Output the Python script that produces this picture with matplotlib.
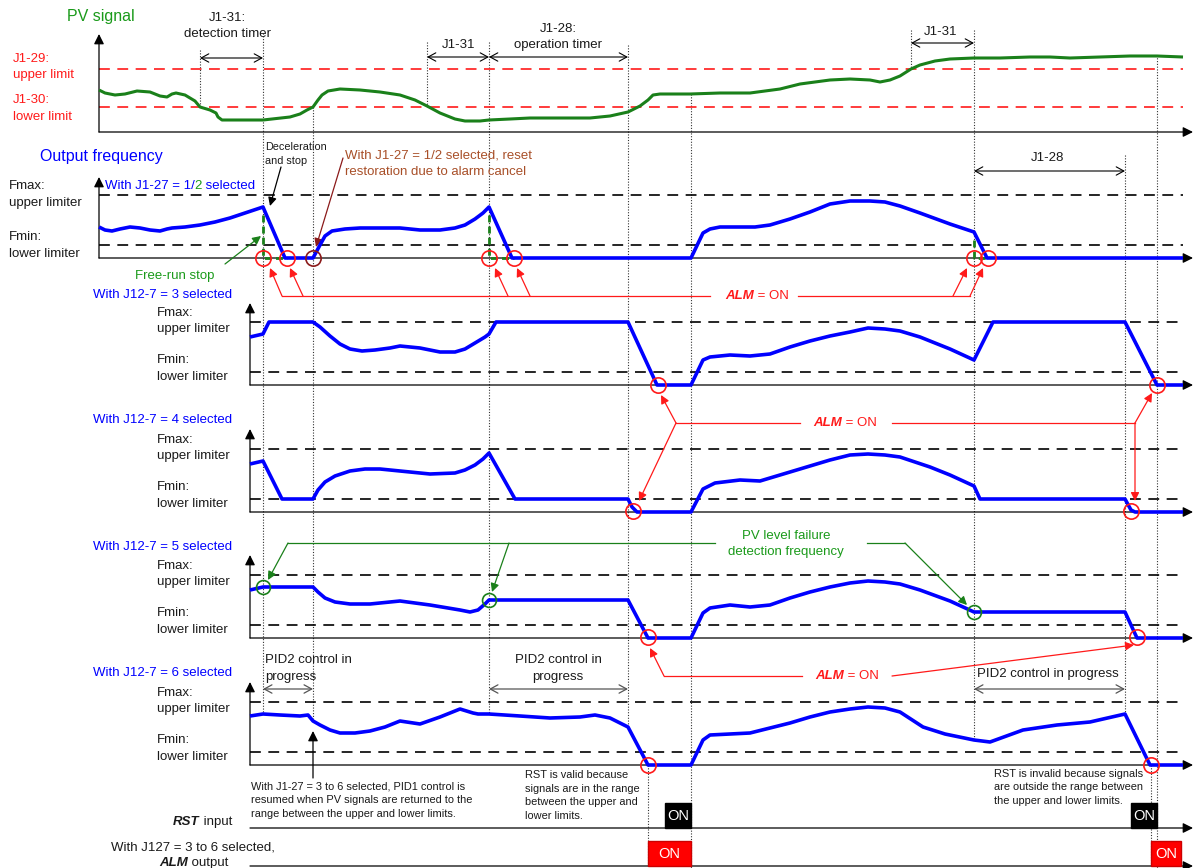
import matplotlib.pyplot as plt
from matplotlib.patches import Rectangle
import numpy as np

plt.rcParams['font.family'] = ['Liberation Sans', 'DejaVu Sans']

BLUE = '#0000ff'
GREEN = '#1a801a'
RED = '#ff1a1a'
BROWN = '#a84f28'
DARKRED = '#8b1a1a'

# ---- data: time axis (px) and signal levels above each panel's axis ----
pv_t = [99, 105, 115, 125, 137, 150, 160, 167, 172, 176, 185, 195, 200, 210, 216, 218, 222, 263, 290, 300,
        307, 313, 318, 322, 328, 340, 360, 380, 400, 415, 427, 440, 455, 465, 480, 489, 510, 530, 560, 590,
        610, 628, 640, 648, 653, 660, 690, 720, 750, 780, 800, 830, 850, 870, 880, 890, 900, 911, 920, 935,
        950, 974, 1000, 1030, 1050, 1070, 1100, 1130, 1157, 1183]
pv_v = [42, 39, 37, 38, 41, 40, 36, 35, 38, 39, 37, 31, 25, 22, 19, 15, 12, 12, 15, 18,
        22, 25, 32, 37, 41, 43, 42, 40, 37, 32, 26, 19, 13, 11, 11, 12, 13, 14, 14, 14,
        16, 20, 26, 32, 37, 38, 38, 39, 39, 43, 48, 52, 53, 52, 50, 52, 56, 63, 67, 71,
        73, 74, 74, 75, 75, 74, 75, 76, 76, 75]
pv_upper, pv_lower = 63, 25

f1_t = [99, 105, 112, 120, 130, 140, 150, 160, 167, 172, 185, 200, 215, 230, 245, 263, 285, 313, 320, 325,
        332, 345, 360, 380, 400, 420, 440, 455, 465, 475, 483, 489, 512, 691, 703, 710, 720, 740, 755, 770,
        790, 810, 830, 850, 870, 885, 900, 920, 950, 974, 987, 1183]
f1_v = [31, 28, 27, 29, 31, 30, 28, 27, 29, 30, 31, 33, 36, 40, 45, 51, 0, 0, 13, 22,
        27, 29, 30, 30, 30, 28, 28, 30, 33, 39, 45, 51, 0, 0, 25, 29, 31, 31, 31, 33,
        39, 46, 54, 57, 57, 56, 52, 45, 34, 26, 0, 0]

f3_t = [250, 263, 269, 313, 320, 330, 340, 350, 362, 375, 390, 400, 420, 440, 455, 465, 475, 485, 489, 496,
        628, 657, 691, 703, 710, 730, 750, 770, 790, 810, 830, 850, 868, 885, 900, 920, 950, 974, 993, 1125,
        1157, 1183]
f3_v = [48, 51, 63, 63, 58, 49, 41, 36, 34, 35, 37, 39, 37, 33, 33, 36, 42, 48, 51, 63,
        63, 0, 0, 25, 28, 30, 29, 31, 38, 44, 49, 53, 57, 56, 54, 48, 36, 25, 63, 63,
        0, 0]

f4_t = [250, 263, 282, 313, 318, 325, 335, 350, 365, 380, 400, 430, 455, 465, 475, 483, 489, 515, 628, 632,
        637, 691, 703, 715, 740, 760, 780, 800, 830, 850, 868, 885, 900, 930, 950, 974, 980, 1125, 1131, 1135,
        1183]
f4_v = [48, 51, 13, 13, 22, 30, 36, 41, 43, 43, 41, 38, 39, 42, 47, 53, 59, 13, 13, 5,
        0, 0, 23, 29, 32, 31, 37, 43, 52, 57, 58, 57, 55, 45, 37, 26, 13, 13, 2, 0,
        0]

f5_t = [250, 263, 313, 318, 325, 335, 350, 370, 400, 430, 460, 470, 478, 485, 489, 628, 648, 691, 703, 710,
        730, 750, 770, 790, 810, 830, 850, 868, 885, 900, 920, 950, 974, 1125, 1137, 1183]
f5_v = [48, 51, 51, 46, 40, 36, 34, 34, 37, 33, 28, 26, 28, 34, 38, 38, 0, 0, 25, 30,
        33, 31, 33, 40, 46, 51, 55, 57, 56, 54, 48, 37, 26, 26, 0, 0]

f6_t = [250, 263, 280, 300, 308, 313, 320, 330, 340, 355, 370, 385, 400, 420, 440, 460, 473, 478, 489, 520,
        550, 580, 595, 610, 628, 648, 691, 703, 710, 730, 750, 770, 790, 810, 830, 850, 868, 885, 900, 923,
        945, 974, 990, 1023, 1057, 1090, 1125, 1150, 1183]
f6_v = [49, 51, 50, 49, 50, 44, 40, 35, 32, 32, 34, 38, 44, 41, 48, 56, 52, 51, 51, 49,
        47, 48, 50, 47, 38, 0, 0, 25, 30, 31, 32, 37, 42, 48, 53, 56, 58, 57, 53, 38,
        31, 25, 23, 35, 40, 43, 51, 0, 0]
fmax_level, fmin_level = 63, 13

# alarm / event markers
free_run_t = [263, 489, 974]
free_run_stop_t = [287, 514, 988]
alarm_p3 = [658, 1157]
alarm_p4 = [633, 1131]
alarm_p5 = [648, 1137]
alarm_p6 = [648, 1151]
pv_fail_t = [263, 489, 974]
pv_fail_v = [51, 38, 26]
rst_on = [(665, 691), (1131, 1157)]
alm_on = [(648, 691), (1151, 1181)]

fig = plt.figure(figsize=(11.94, 8.68), dpi=100)
ax = fig.add_axes([0, 0, 1, 1])
ax.set_xlim(0, 1194)
ax.set_ylim(868, 0)
ax.axis('off')
R = fig.canvas.get_renderer()

FS = 9.5
NOTE = 7.9
INK = '#1a1a1a'


def arrow(x0, y0, x1, y1, color='black', style='-|>', lw=0.9, hl=0.6, hw=0.3):
    ax.annotate('', xy=(x1, y1), xytext=(x0, y0),
                arrowprops=dict(arrowstyle=f'{style},head_length={hl},head_width={hw}',
                                lw=lw, color=color, shrinkA=0, shrinkB=0))


def axes_frame(x0, base, top):
    arrow(x0, base, x0, top)
    arrow(x0, base, 1193, base)


def rich(x, y, parts, size=FS, va='center'):
    for s, color, weight, style in parts:
        t = ax.text(x, y, s, color=color, fontsize=size, fontweight=weight,
                    fontstyle=style, va=va, ha='left')
        x += t.get_window_extent(R).width


def curve(t, v, base, color=BLUE, lw=2.6):
    ax.plot(t, base - np.asarray(v), color=color, lw=lw, solid_joinstyle='round',
            solid_capstyle='butt', zorder=4)


def limits(x0, base, color='black', levels=(fmax_level, fmin_level), lw=1.2):
    for lv in levels:
        ax.plot([x0, 1183], [base - lv, base - lv], color=color, lw=lw,
                ls=(0, (6.5, 4.5)), zorder=2)


def circles(ts, y, color=RED):
    ax.plot(ts, [y] * len(ts), 'o', mfc='none', mec=color, ms=11, mew=1.2, zorder=6)


def lines(x, y, s, color=INK, size=FS, ha='left', ls=1.55):
    ax.text(x, y, s, color=color, fontsize=size, ha=ha, va='center', linespacing=ls)


# ---- vertical dotted guide lines ----
guides = [(200, 50, 107), (263, 33, 713), (313, 107, 722), (427, 42, 107), (489, 42, 714),
          (628, 45, 727), (648, 765, 868), (691, 94, 868), (911, 30, 69), (974, 30, 740),
          (1125, 155, 713), (1157, 55, 868), (1151, 765, 868)]
for gx, g0, g1 in guides:
    ax.plot([gx, gx], [g0, g1], color='#333333', lw=0.8, ls=(0, (1, 1.5)), zorder=1)

# ---- PV signal panel ----
PV_BASE = 132
axes_frame(99, PV_BASE, 34)
limits(99, PV_BASE, color=RED, levels=(pv_upper, pv_lower))
curve(pv_t, pv_v, PV_BASE, color=GREEN, lw=2.2)
ax.text(67, 17, 'PV signal', color='#1a9a1a', fontsize=11.5, va='center')
lines(13, 67, 'J1-29:\nupper limit', color=RED)
lines(13, 108.5, 'J1-30:\nlower limit', color=RED)
lines(227, 26, 'J1-31:\ndetection timer', ha='center', ls=1.5)
lines(558, 37, 'J1-28:\noperation timer', ha='center', ls=1.4)
ax.text(459, 45, 'J1-31', fontsize=FS, ha='center', va='center', color=INK)
ax.text(941, 32, 'J1-31', fontsize=FS, ha='center', va='center', color=INK)
ax.text(1048, 158, 'J1-28', fontsize=FS, ha='center', va='center', color=INK)
for a, b, y in [(200, 263, 58), (427, 489, 57), (489, 628, 57), (911, 974, 43), (974, 1125, 171)]:
    arrow(a, y, b, y, style='<->', lw=0.8, hl=0.55, hw=0.3)

# ---- Output frequency, J1-27 = 1/2 ----
P1 = 258
ax.text(40, 157, 'Output frequency', color=BLUE, fontsize=11.5, va='center')
axes_frame(99, P1, 177)
limits(99, P1)
lines(9, 194.5, 'Fmax:\nupper limiter', ls=1.5)
lines(9, 245.5, 'Fmin:\nlower limiter', ls=1.5)
rich(105, 186, [('With J1-27 = 1/', BLUE, 'normal', 'normal'), ('2', '#1a9a1a', 'normal', 'normal'),
                (' selected', BLUE, 'normal', 'normal')])
for ft, st in zip(free_run_t, free_run_stop_t):
    h = f1_v[f1_t.index(ft)]
    ax.plot([ft, ft, st], [P1 - h + 8, P1, P1], color=GREEN, lw=2.0, ls=(0, (2.5, 1.5)), zorder=3)
curve(f1_t, f1_v, P1)
circles(free_run_t + free_run_stop_t, P1)
circles([313], P1, color=DARKRED)
lines(265, 154, 'Deceleration\nand stop', size=7.8, ls=1.55)
arrow(281, 167, 270, 206, hl=0.5, hw=0.25)
lines(345, 163.5, 'With J1-27 = 1/2 selected, reset\nrestoration due to alarm cancel', color=BROWN, ls=1.55)
arrow(343, 158, 316, 247, color=DARKRED, hl=0.5, hw=0.25)
ax.text(135, 276, 'Free-run stop', color='#1a9a1a', fontsize=FS, va='center')
arrow(225, 264, 261, 236, color=GREEN, hl=0.5, hw=0.25)

# ALM = ON (group 1)
ax.plot([282, 710], [296, 296], color=RED, lw=0.9)
ax.plot([798, 970], [296, 296], color=RED, lw=0.9)
for x0, x1 in [(282, 270), (303, 290), (508, 495), (530, 517), (953, 967), (970, 983)]:
    arrow(x0, 296, x1, 268, color=RED, hl=0.5, hw=0.25)
rich(725, 296, [('ALM', RED, 'bold', 'italic'), (' = ON', RED, 'normal', 'normal')])

# ---- J12-7 panels ----
panels = [(385, 303, 295, '3', f3_t, f3_v), (512, 429, 420, '4', f4_t, f4_v),
          (638, 555, 547, '5', f5_t, f5_v), (765, 682, 673, '6', f6_t, f6_v)]
for base, top, ty, n, t, v in panels:
    axes_frame(250, base, top)
    limits(250, base)
    ax.text(93, ty, f'With J12-7 = {n} selected', color=BLUE, fontsize=FS, va='center')
    lines(157, base - 64, 'Fmax:\nupper limiter', ls=1.5)
    lines(157, base - 16.5, 'Fmin:\nlower limiter', ls=1.5)
    curve(t, v, base)

circles(alarm_p3, 385)
circles(alarm_p4, 511)
circles(alarm_p5, 637)
circles(alarm_p6, 765)
ax.plot(pv_fail_t, 638 - np.asarray(pv_fail_v), 'o', mfc='none', mec=GREEN, ms=10, mew=1.2, zorder=6)

# ALM = ON (group 2)
ax.plot([676, 800], [423, 423], color=RED, lw=0.9)
ax.plot([892, 1135], [423, 423], color=RED, lw=0.9)
arrow(676, 423, 661, 395, color=RED, hl=0.5, hw=0.25)
arrow(676, 423, 639, 501, color=RED, hl=0.5, hw=0.25)
arrow(1135, 423, 1152, 393, color=RED, hl=0.5, hw=0.25)
arrow(1135, 423, 1135, 501, color=RED, hl=0.5, hw=0.25)
rich(813, 423, [('ALM', RED, 'bold', 'italic'), (' = ON', RED, 'normal', 'normal')])

# PV level failure detection frequency
ax.plot([288, 715], [543, 543], color=GREEN, lw=0.9)
ax.plot([867, 905], [543, 543], color=GREEN, lw=0.9)
arrow(288, 543, 268, 580, color=GREEN, hl=0.5, hw=0.25)
arrow(509, 543, 492, 592, color=GREEN, hl=0.5, hw=0.25)
arrow(905, 543, 967, 605, color=GREEN, hl=0.5, hw=0.25)
lines(786, 544, 'PV level failure\ndetection frequency', color='#1a9a1a', ha='center', ls=1.35)

# PID2 control in progress
for a, b in [(263, 313), (489, 628), (974, 1125)]:
    arrow(a, 689, b, 689, color='#555555', style='<->', lw=0.9, hl=0.55, hw=0.3)
lines(265, 668.5, 'PID2 control in\nprogress', ls=1.5)
lines(558, 668.5, 'PID2 control in\nprogress', ha='center', ls=1.5)
ax.text(1048, 674, 'PID2 control in progress', fontsize=FS, ha='center', va='center', color=INK)

# ALM = ON (group 3)
ax.plot([664, 802], [676, 676], color=RED, lw=0.9)
arrow(664, 676, 650, 648, color=RED, hl=0.5, hw=0.25)
arrow(892, 676, 1134, 645, color=RED, hl=0.5, hw=0.25)
rich(815, 676, [('ALM', RED, 'bold', 'italic'), (' = ON', RED, 'normal', 'normal')])

# notes
arrow(313, 778, 313, 731, hl=0.6, hw=0.3)
lines(251, 800, 'With J1-27 = 3 to 6 selected, PID1 control is\nresumed when PV signals are returned to the\n'
      'range between the upper and lower limits.', size=NOTE, ls=1.45)
lines(525, 795.5, 'RST is valid because\nsignals are in the range\nbetween the upper and\nlower limits.',
      size=NOTE, ls=1.45)
lines(994, 787.5, 'RST is invalid because signals\nare outside the range between\nthe upper and lower limits.',
      size=NOTE, ls=1.45)

# ---- RST input / ALM output ----
RST_Y, ALM_Y = 828, 866
arrow(250, RST_Y, 1193, RST_Y)
arrow(250, ALM_Y, 1193, ALM_Y)
for a, b in rst_on:
    ax.add_patch(Rectangle((a, RST_Y - 25), b - a, 25, color='black', zorder=5))
    ax.text((a + b) / 2, RST_Y - 12, 'ON', color='white', fontsize=10.5, ha='center', va='center', zorder=6)
for a, b in alm_on:
    ax.add_patch(Rectangle((a, ALM_Y - 25), b - a, 25, facecolor='#ff0000', edgecolor='#cc0000', zorder=5))
    ax.text((a + b) / 2, ALM_Y - 12, 'ON', color='white', fontsize=10.5, ha='center', va='center', zorder=6)
rich(173, 822, [('RST', INK, 'bold', 'italic'), (' input', INK, 'normal', 'normal')])
ax.text(111, 847, 'With J127 = 3 to 6 selected,', fontsize=FS, va='center', color=INK)
rich(159, 863, [('ALM', INK, 'bold', 'italic'), (' output', INK, 'normal', 'normal')])

fig.savefig('out.png', dpi=100)
